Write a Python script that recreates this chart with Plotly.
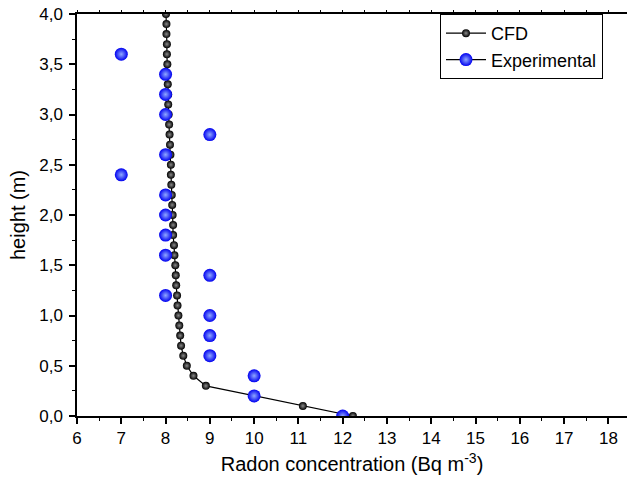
import plotly.graph_objects as go

# CFD simulation profile
cfd_height = [0.0, 0.1, 0.3, 0.4, 0.5, 0.6, 0.7, 0.8, 0.9, 1.0, 1.1, 1.2, 1.3, 1.4, 1.5,
              1.6, 1.7, 1.8, 1.9, 2.0, 2.1, 2.2, 2.3, 2.4, 2.5, 2.6, 2.7, 2.8, 2.9, 3.0,
              3.1, 3.2, 3.3, 3.4, 3.5, 3.6, 3.7, 3.8, 3.9, 4.0]
cfd_radon = [12.23, 11.10, 8.91, 8.63, 8.48, 8.40, 8.35, 8.33, 8.31, 8.29, 8.27, 8.26, 8.24, 8.23, 8.22,
             8.20, 8.19, 8.17, 8.17, 8.16, 8.15, 8.14, 8.13, 8.12, 8.12, 8.11, 8.10, 8.09, 8.08, 8.07,
             8.06, 8.06, 8.05, 8.04, 8.04, 8.03, 8.03, 8.02, 8.02, 8.01]

# Experimental measurements
exp_height = [0.0, 0.2, 0.4, 0.6, 0.8, 1.0, 1.2, 1.4, 1.6, 1.8, 2.0, 2.2, 2.4, 2.6, 2.8, 3.0, 3.2, 3.4, 3.6]
exp_radon = [12, 10, 10, 9, 9, 9, 8, 9, 8, 8, 8, 8, 7, 8, 9, 8, 8, 8, 7]

x_ticks = list(range(6, 19))
y_ticks = [0.0, 0.5, 1.0, 1.5, 2.0, 2.5, 3.0, 3.5, 4.0]

# insert gaps so experimental points stay unconnected while legend shows line+marker
ex, ey = [], []
for xv, yv in zip(exp_radon, exp_height):
    ex += [xv, None]
    ey += [yv, None]

fig = go.Figure()
fig.add_trace(go.Scatter(
    x=cfd_radon, y=cfd_height, name="CFD", mode="lines+markers",
    line=dict(color="black", width=1.2),
    marker=dict(size=8, color="black", gradient=dict(type="radial", color="#8a8a8a"),
                line=dict(width=0)),
))
fig.add_trace(go.Scatter(
    x=ex, y=ey, name="Experimental", mode="lines+markers", connectgaps=False,
    line=dict(color="black", width=1.2),
    marker=dict(size=13, color="#0000f0", gradient=dict(type="radial", color="#8fa8ff"),
                line=dict(width=0)),
))
# invisible trace so the top frame axis is drawn
fig.add_trace(go.Scatter(x=[x_ticks[0]], y=[y_ticks[0]], xaxis="x2", mode="markers",
                         marker=dict(opacity=0), showlegend=False, hoverinfo="skip"))

FONT = "Liberation Sans, Arial, sans-serif"
axis_font = dict(family=FONT, size=17, color="black")
XR = [6, 18.42]
fig.update_layout(
    width=627, height=484,
    margin=dict(l=77, r=0, t=14, b=68, autoexpand=False),
    plot_bgcolor="white", paper_bgcolor="white",
    separators=",.",
    font=dict(family=FONT, color="black"),
    showlegend=True,
    legend=dict(x=0.66, y=1.0, xanchor="left", yanchor="top",
                bordercolor="black", borderwidth=1, bgcolor="white",
                font=dict(size=18), tracegroupgap=0, itemwidth=40),
    xaxis=dict(range=XR, tickvals=x_ticks, ticktext=[str(t) for t in x_ticks],
               showgrid=False, zeroline=False, showline=True, linecolor="black", linewidth=1.5,
               ticks="outside", ticklen=6, tickwidth=1.5, tickcolor="black", tickfont=axis_font,
               automargin=False,
               minor=dict(ticks="outside", ticklen=3, dtick=0.5, tickcolor="black", tickwidth=1),
               title=dict(text="Radon concentration (Bq m<sup>-3</sup>)", font=dict(size=20), standoff=10)),
    xaxis2=dict(range=XR, overlaying="x", side="top", showticklabels=False, automargin=False,
                showgrid=False, zeroline=False, showline=True, linecolor="black", linewidth=1.5,
                ticks="outside", ticklen=2, tickwidth=1, tick0=6, dtick=0.5, tickcolor="black"),
    yaxis=dict(range=[0, 4.0], tickvals=y_ticks, tickformat=".1f", automargin=False,
               showgrid=False, zeroline=False, showline=True, linecolor="black", linewidth=1.5,
               ticks="outside", ticklen=6, tickwidth=1.5, tickcolor="black", tickfont=axis_font,
               ticklabelstandoff=3, ticklabeloverflow="allow",
               minor=dict(ticks="outside", ticklen=3, dtick=0.25, tickcolor="black", tickwidth=1),
               title=dict(text="height (m)", font=dict(size=20), standoff=8)),
)
fig.write_html("out.html", config={"displayModeBar": False},
               post_script="document.body.style.margin='0';")
